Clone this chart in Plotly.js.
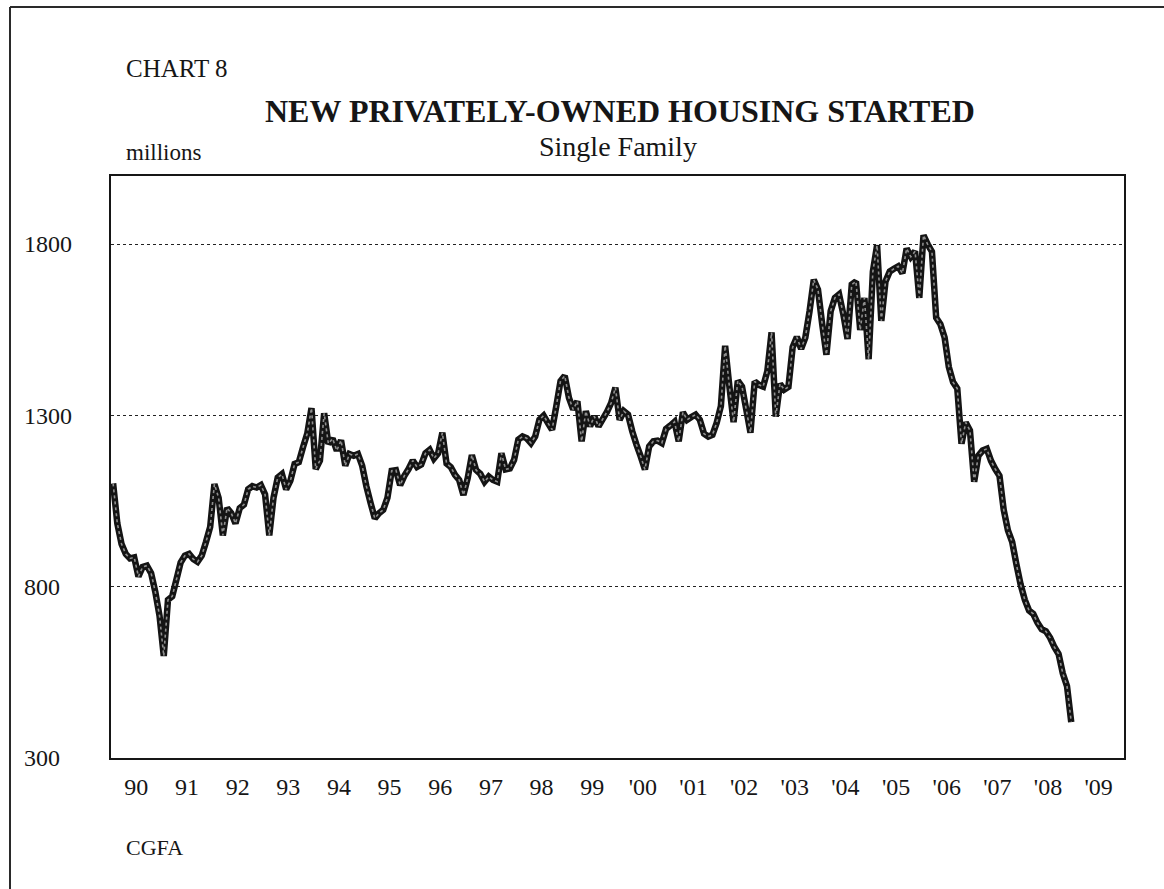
<!DOCTYPE html>
<html>
<head>
<meta charset="utf-8">
<script src="https://cdn.plot.ly/plotly-3.0.1.min.js"></script>
<style>
  html, body { margin: 0; padding: 0; background: #ffffff; }
  #chart { width: 1164px; height: 889px; }
</style>
</head>
<body>
<div id="chart"></div>
<script>
// Single-family housing starts, monthly, thousands (SAAR)
const firstYear = 1990;
const starts1990 = [1102, 985, 925, 896, 883, 886, 830, 858, 862, 840, 785, 715];
const starts1991 = [598, 762, 772, 821, 871, 891, 896, 881, 873, 891, 931, 975];
const starts1992 = [1100, 1060, 950, 1030, 1015, 985, 1030, 1040, 1085, 1094, 1090, 1097];
const starts1993 = [1070, 950, 1060, 1119, 1129, 1085, 1110, 1159, 1164, 1208, 1248, 1322];
const starts1994 = [1144, 1169, 1307, 1218, 1233, 1198, 1228, 1154, 1188, 1183, 1188, 1154];
const starts1995 = [1094, 1045, 1000, 1015, 1025, 1060, 1139, 1141, 1097, 1124, 1144, 1169];
const starts1996 = [1150, 1157, 1190, 1200, 1175, 1190, 1250, 1160, 1150, 1127, 1112, 1068];
const starts1997 = [1117, 1185, 1141, 1130, 1107, 1122, 1112, 1107, 1190, 1143, 1146, 1171];
const starts1998 = [1230, 1239, 1234, 1220, 1239, 1288, 1300, 1279, 1259, 1328, 1401, 1416];
const starts1999 = [1352, 1318, 1342, 1225, 1313, 1269, 1298, 1269, 1290, 1311, 1337, 1382];
const starts2000 = [1288, 1313, 1303, 1254, 1215, 1181, 1143, 1210, 1225, 1227, 1220, 1261];
const starts2001 = [1271, 1282, 1225, 1310, 1288, 1296, 1303, 1288, 1247, 1239, 1244, 1279];
const starts2002 = [1328, 1504, 1386, 1281, 1402, 1385, 1318, 1250, 1400, 1390, 1385, 1430];
const starts2003 = [1543, 1297, 1393, 1376, 1384, 1500, 1530, 1495, 1528, 1605, 1697, 1668];
const starts2004 = [1567, 1478, 1605, 1644, 1654, 1596, 1524, 1683, 1692, 1550, 1644, 1465];
const starts2005 = [1721, 1798, 1577, 1692, 1721, 1729, 1736, 1716, 1788, 1764, 1780, 1644];
const starts2006 = [1827, 1800, 1779, 1586, 1567, 1528, 1442, 1398, 1379, 1218, 1280, 1257];
const starts2007 = [1107, 1183, 1198, 1203, 1168, 1144, 1124, 1025, 965, 931, 866, 807];
const starts2008 = [762, 731, 721, 695, 676, 670, 651, 624, 604, 547, 510, 405];

const yearLabels = ['90', '91', '92', '93', '94', '95', '96', '97', '98', '99',
                    "'00", "'01", "'02", "'03", "'04", "'05", "'06", "'07", "'08", "'09"];
const yTickValues = [300, 800, 1300, 1800];

const yearly = [starts1990, starts1991, starts1992, starts1993, starts1994, starts1995,
                starts1996, starts1997, starts1998, starts1999, starts2000, starts2001,
                starts2002, starts2003, starts2004, starts2005, starts2006, starts2007, starts2008];

const xs = [], ys = [];
yearly.forEach((vals, i) => {
  vals.forEach((v, m) => {
    xs.push(firstYear + i + (m + 0.5) / 12);
    ys.push(v);
  });
});

// plot box in pixels (used to place paper-referenced texts)
const W = 1164, H = 889;
const M = { l: 111, r: 40, t: 176, b: 131 };
const pw = W - M.l - M.r, ph = H - M.t - M.b;
const px = p => (p - M.l) / pw;
const py = p => (H - M.b - p) / ph;

const serif = 'Liberation Serif, Times New Roman, serif';
const ink = '#161616';

const traces = [
  { x: xs, y: ys, type: 'scatter', mode: 'lines',
    line: { color: '#141414', width: 6.5, simplify: false }, hoverinfo: 'skip' },
  { x: xs, y: ys, type: 'scatter', mode: 'lines',
    line: { color: '#8f8f8f', width: 1.6, dash: 'dot', simplify: false }, hoverinfo: 'skip' }
];

// value-axis labels, left aligned, positioned on the y scale
const yLabelNotes = yTickValues.map(v => ({
  text: String(v), xref: 'paper', yref: 'y', x: px(22), y: v,
  xanchor: 'left', yanchor: 'middle', showarrow: false,
  font: { family: serif, size: 24, color: ink }
}));

const layout = {
  width: W, height: H,
  margin: M,
  paper_bgcolor: '#ffffff',
  plot_bgcolor: '#ffffff',
  showlegend: false,
  font: { family: serif, color: ink },
  xaxis: {
    range: [firstYear, firstYear + yearLabels.length],
    tickmode: 'array',
    tickvals: yearLabels.map((_, i) => firstYear + i + 0.5),
    ticktext: yearLabels,
    ticks: '',
    showgrid: false, zeroline: false,
    showline: true, mirror: true, linecolor: ink, linewidth: 2,
    tickfont: { family: serif, size: 24, color: ink },
    ticklabelstandoff: 6
  },
  yaxis: {
    range: [300, 2000],
    tickmode: 'array',
    tickvals: yTickValues,
    showticklabels: false,
    ticks: '',
    showgrid: true, gridcolor: '#222222', gridwidth: 1, griddash: 'dot',
    zeroline: false,
    showline: true, mirror: true, linecolor: ink, linewidth: 2
  },
  annotations: yLabelNotes.concat([
    { text: 'CHART 8', xref: 'paper', yref: 'paper', x: px(124), y: py(68),
      xanchor: 'left', yanchor: 'middle', showarrow: false,
      font: { family: serif, size: 25, color: ink } },
    { text: '<b>NEW PRIVATELY-OWNED HOUSING STARTED</b>', xref: 'paper', yref: 'paper',
      x: px(620), y: py(111), xanchor: 'center', yanchor: 'middle', showarrow: false,
      font: { family: serif, size: 32, color: ink } },
    { text: 'millions', xref: 'paper', yref: 'paper', x: px(124), y: py(153),
      xanchor: 'left', yanchor: 'middle', showarrow: false,
      font: { family: serif, size: 23, color: ink } },
    { text: 'Single Family', xref: 'paper', yref: 'paper', x: px(618), y: py(147),
      xanchor: 'center', yanchor: 'middle', showarrow: false,
      font: { family: serif, size: 28, color: ink } },
    { text: 'CGFA', xref: 'paper', yref: 'paper', x: px(124), y: py(848),
      xanchor: 'left', yanchor: 'middle', showarrow: false,
      font: { family: serif, size: 22, color: ink } }
  ]),
  shapes: [
    { type: 'line', xref: 'paper', yref: 'paper', x0: px(10), x1: px(1164), y0: py(7), y1: py(7),
      line: { color: '#2a2a2a', width: 2 } },
    { type: 'line', xref: 'paper', yref: 'paper', x0: px(10), x1: px(10), y0: py(7), y1: py(889),
      line: { color: '#2a2a2a', width: 2 } }
  ]
};

Plotly.newPlot('chart', traces, layout, { displayModeBar: false, staticPlot: true });
</script>
</body>
</html>
